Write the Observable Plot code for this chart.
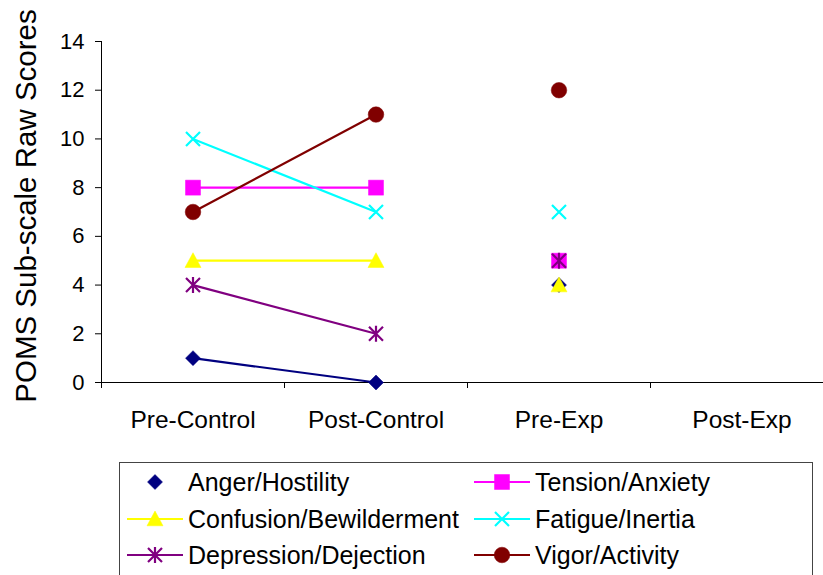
<!DOCTYPE html>
<html>
<head>
<meta charset="utf-8">
<script src="https://cdn.jsdelivr.net/npm/d3@7"></script>
<script src="https://cdn.jsdelivr.net/npm/@observablehq/plot@0.6"></script>
<style>
  html, body { margin: 0; padding: 0; background: #fff; overflow: hidden; }
  body { width: 823px; height: 575px; position: relative; font-family: "Liberation Sans", Arial, sans-serif; }
  #chart { position: absolute; left: 0; top: 0; }
  #legend { position: absolute; left: 119px; top: 462px; width: 694px; height: 140px; border: 1px solid #444; box-sizing: border-box; }
  .item { position: absolute; height: 30px; display: flex; align-items: center; font-size: 25px; color: #000; white-space: nowrap; }
  .item svg { margin-right: 5px; flex: none; }
</style>
</head>
<body>
<div id="chart"></div>
<div id="legend"></div>
<script>
const categories = ["Pre-Control", "Post-Control", "Pre-Exp", "Post-Exp"];
const phases = ["Control", "Control", "Exp", "Exp"];
const seriesNames = ["Anger/Hostility", "Tension/Anxiety", "Confusion/Bewilderment", "Fatigue/Inertia", "Depression/Dejection", "Vigor/Activity"];
const anger = [1, 0, 4, null];
const tension = [8, 8, 5, null];
const confusion = [5, 5, 4, null];
const fatigue = [10, 7, 7, null];
const depression = [4, 2, 5, null];
const vigor = [7, 11, 12, null];
const seriesValues = [anger, tension, confusion, fatigue, depression, vigor];
const colors = ["#000080", "#FF00FF", "#FFFF00", "#00FFFF", "#800080", "#800000"];
const yTicks = [0, 2, 4, 6, 8, 10, 12, 14];
const yLabel = "POMS Sub-scale Raw Scores";

// custom marker symbols (r = radius derived from Plot's size = r*r*PI)
const rOf = s => Math.sqrt(s / Math.PI);
const symDiamond = {draw(c, s) { const r = rOf(s); c.moveTo(0, -r); c.lineTo(r, 0); c.lineTo(0, r); c.lineTo(-r, 0); c.closePath(); }};
const symSquare = {draw(c, s) { const r = rOf(s); c.moveTo(-r, -r); c.lineTo(r, -r); c.lineTo(r, r); c.lineTo(-r, r); c.closePath(); }};
const symTriangle = {draw(c, s) { const r = rOf(s); c.moveTo(0, -r); c.lineTo(r, r * 0.85); c.lineTo(-r, r * 0.85); c.closePath(); }};
const symTimes = {draw(c, s) { const r = rOf(s); c.moveTo(-r, -r); c.lineTo(r, r); c.moveTo(r, -r); c.lineTo(-r, r); }};
const symAsterisk = {draw(c, s) { const r = rOf(s); c.moveTo(-r, -r); c.lineTo(r, r); c.moveTo(r, -r); c.lineTo(-r, r); c.moveTo(0, -r * 1.15); c.lineTo(0, r * 1.15); }};
const symCircle = {draw(c, s) { const r = rOf(s); c.moveTo(r, 0); c.arc(0, 0, r, 0, 2 * Math.PI); c.closePath(); }};
const symbols = [symDiamond, symSquare, symTriangle, symTimes, symAsterisk, symCircle];
const symSize = [7.5, 7.5, 8, 7, 7, 7.8];
const symFilled = [true, true, true, false, false, true];
const legendLine = [false, true, true, true, true, true];

const rows = [];
seriesValues.forEach((vals, si) => vals.forEach((v, i) => {
  rows.push({series: seriesNames[si], si, xi: i, phase: phases[i], value: v});
}));

const marks = [
  Plot.ruleY([0], {stroke: "#000", strokeWidth: 1}),
  Plot.ruleX([-0.5], {stroke: "#000", strokeWidth: 1}),
  Plot.axisY(yTicks, {tickSize: 6, tickPadding: 11, fontSize: 22, label: null, stroke: "#000"}),
  Plot.axisX([-0.5, 0.5, 1.5, 2.5, 3.5], {tickSize: 6, tickFormat: () => "", label: null, stroke: "#000"}),
  Plot.axisX([0, 1, 2, 3], {tickSize: 0, tickPadding: 28, fontSize: 24.5, tickFormat: i => categories[i], label: null}),
  Plot.text([yLabel], {frameAnchor: "left", textAnchor: "middle", dx: -75, dy: -6, rotate: -90, text: d => d, fontSize: 29.5, fill: "#000"})
];
seriesNames.forEach((name, si) => {
  marks.push(Plot.line(rows.filter(d => d.si === si), {x: "xi", y: "value", z: "phase", stroke: colors[si], strokeWidth: 2.2}));
});
seriesNames.forEach((name, si) => {
  const data = rows.filter(d => d.si === si && d.value != null);
  marks.push(Plot.dot(data, {
    x: "xi", y: "value", symbol: symbols[si], r: symSize[si],
    fill: symFilled[si] ? colors[si] : "none",
    stroke: colors[si], strokeWidth: symFilled[si] ? 0.5 : 2.2
  }));
});

const chart = Plot.plot({
  width: 823,
  height: 445,
  marginTop: 41,
  marginLeft: 101,
  marginBottom: 63,
  marginRight: 0,
  style: {fontFamily: "'Liberation Sans', Arial, sans-serif", color: "#000", background: "#fff", overflow: "hidden"},
  x: {type: "linear", domain: [-0.5, 3.5], range: [101, 833], axis: null},
  y: {domain: [0, 14], range: [382, 41], axis: null},
  marks
});
document.getElementById("chart").appendChild(chart);

// legend
const legend = document.getElementById("legend");
const colX = [127, 474];
const rowY = [482, 519, 555];
seriesNames.forEach((name, si) => {
  const col = si % 2, row = Math.floor(si / 2);
  const item = document.createElement("div");
  item.className = "item";
  item.style.left = (colX[col] - 120) + "px";
  item.style.top = (rowY[row] - 463 - 15) + "px";
  const w = 56, h = 30;
  const s = symSize[si];
  const ctx = d3.path();
  symbols[si].draw(ctx, s * s * Math.PI);
  const svgNS = "http://www.w3.org/2000/svg";
  const svg = document.createElementNS(svgNS, "svg");
  svg.setAttribute("width", w); svg.setAttribute("height", h);
  if (legendLine[si]) {
    const ln = document.createElementNS(svgNS, "line");
    ln.setAttribute("x1", 0); ln.setAttribute("x2", w); ln.setAttribute("y1", h / 2); ln.setAttribute("y2", h / 2);
    ln.setAttribute("stroke", colors[si]); ln.setAttribute("stroke-width", 2.2);
    svg.appendChild(ln);
  }
  const path = document.createElementNS(svgNS, "path");
  path.setAttribute("d", ctx.toString());
  path.setAttribute("transform", `translate(${w / 2},${h / 2})`);
  path.setAttribute("fill", symFilled[si] ? colors[si] : "none");
  path.setAttribute("stroke", colors[si]);
  path.setAttribute("stroke-width", symFilled[si] ? 0.5 : 2.2);
  svg.appendChild(path);
  item.appendChild(svg);
  const span = document.createElement("span");
  span.textContent = name;
  item.appendChild(span);
  legend.appendChild(item);
});
</script>
</body>
</html>
